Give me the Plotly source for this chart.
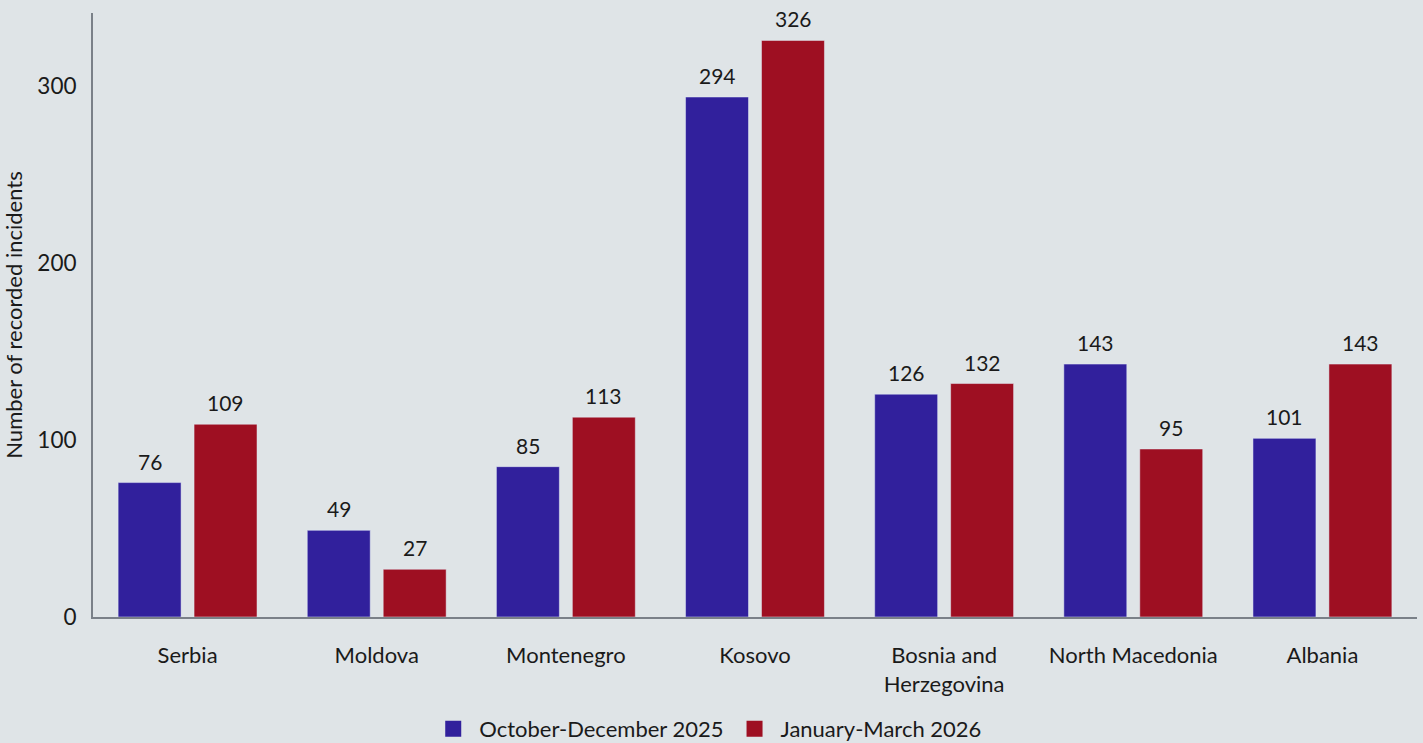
import plotly.graph_objects as go

countries = ["Serbia", "Moldova", "Montenegro", "Kosovo", "Bosnia and<br>Herzegovina", "North Macedonia", "Albania"]
q4_2025 = [76, 49, 85, 294, 126, 143, 101]
q1_2026 = [109, 27, 113, 326, 132, 95, 143]
series_names = ["October-December 2025", "January-March 2026"]
colors = ["#31209c", "#9e0f22"]
y_ticks = [0, 100, 200, 300]

BG = "#dfe4e7"
FONT = "Lato"
TXT = "#1a1a1a"

fig = go.Figure()
for vals, name, col in [(q4_2025, series_names[0], colors[0]), (q1_2026, series_names[1], colors[1])]:
    fig.add_bar(x=countries, y=vals, name=name, marker_color=col, showlegend=False)
    # legend proxy (larger square swatch)
    fig.add_scatter(x=[None], y=[None], mode="markers", name=name,
                    marker=dict(symbol="square", size=21, color=col))

# value labels above bars (shifted to each bar of the group)
for vals, shift in [(q4_2025, -38), (q1_2026, 38)]:
    for c, v in zip(countries, vals):
        fig.add_annotation(x=c, y=v, text=str(v), showarrow=False, xshift=shift,
                           yanchor="bottom", yshift=7,
                           font=dict(size=21, color=TXT, family=FONT))

fig.update_layout(
    width=1423, height=743,
    paper_bgcolor=BG, plot_bgcolor=BG,
    font=dict(family=FONT, size=22, color=TXT),
    margin=dict(l=93, r=6, t=13, b=126),
    barmode="group", bargap=0.197, bargroupgap=0.171,
    showlegend=True,
    legend=dict(orientation="h", xref="container", x=0.497, xanchor="center",
                yref="container", y=0.019, yanchor="middle",
                font=dict(size=22), itemwidth=42, traceorder="normal"),
    xaxis=dict(showline=True, linecolor="#7a8088", linewidth=2, ticks="",
               ticklabelstandoff=18, tickfont=dict(size=22)),
    yaxis=dict(showline=True, linecolor="#7a8088", linewidth=2, range=[0, 341.5],
               tickvals=y_ticks, showgrid=False, zeroline=False, ticks="",
               ticklabelstandoff=10, tickfont=dict(size=22.5),
               title=dict(text="Number of recorded incidents", font=dict(size=22), standoff=9)),
)

fig.write_html("out.html", config={"displayModeBar": False},
               post_script="document.body.style.margin='0';document.body.style.padding='0';")
